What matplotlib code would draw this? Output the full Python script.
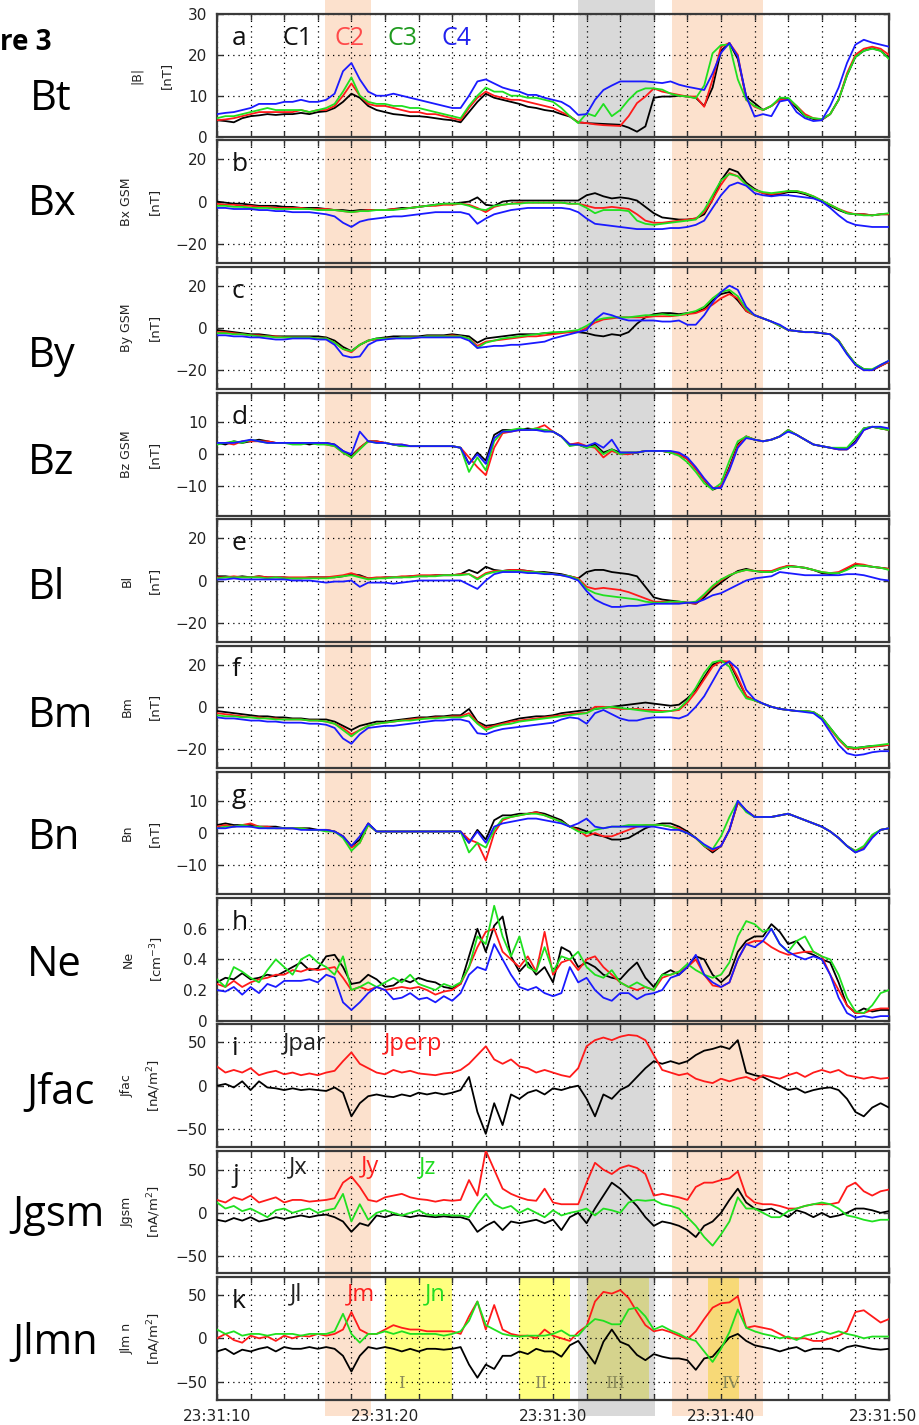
import numpy as np
import matplotlib
matplotlib.use("Agg")
import matplotlib.pyplot as plt
from matplotlib.patches import Rectangle
from matplotlib.transforms import blended_transform_factory, ScaledTranslation
from matplotlib.ticker import MultipleLocator, FixedLocator, FixedFormatter

# ---------------- data (time = seconds after 23:31:10, one sample every 0.5 s) ----------------
DT = 0.5
time_ticks = [0, 10, 20, 30, 40]
time_labels = ["23:31:10", "23:31:20", "23:31:30", "23:31:40", "23:31:50"]

# a  |B|
bt_c1 = [4.0,3.8,3.5,4.5,5.0,5.2,5.5,5.3,5.5,5.5,
         5.8,5.5,6.0,6.2,7.0,8.5,10.5,9.5,7.5,6.5,
         6.0,5.5,5.3,5.0,5.0,4.8,4.5,4.2,4.0,3.5,
         6.0,8.5,10.5,9.5,9.0,8.5,8.0,7.3,7.0,6.5,
         6.2,5.5,4.9,3.5,3.3,3.2,3.1,3.0,2.9,2.2,
         1.2,2.5,9.5,9.8,9.8,10.0,9.8,9.5,7.5,12.0,
         21.0,22.9,19.0,9.8,8.2,6.5,7.5,9.2,9.2,7.0,
         5.0,4.3,4.1,5.5,9.0,15.0,19.5,21.0,21.6,21.0,
         19.2]
bt_c2 = [4.0,4.2,4.5,5.0,5.5,6.0,6.0,6.0,6.0,6.0,
         6.5,6.0,6.5,6.5,7.5,10.0,13.0,10.0,8.0,7.5,
         7.5,7.0,6.5,6.0,6.0,5.5,5.5,5.0,4.5,4.0,
         7.0,9.5,11.0,10.0,9.5,9.0,9.0,8.5,8.0,7.5,
         7.0,6.0,5.0,3.5,3.3,3.0,2.8,2.7,2.6,5.0,
         8.2,9.8,11.8,11.0,10.6,10.2,9.8,9.8,7.3,14.0,
         22.0,22.9,20.0,9.0,7.3,6.5,7.5,9.0,9.0,7.5,
         5.5,4.5,4.2,5.5,9.0,15.5,20.0,21.5,22.0,21.5,
         20.0]
bt_c3 = [4.5,5.0,5.0,5.5,6.0,6.5,7.0,6.5,6.5,6.5,
         6.5,6.0,6.5,7.0,8.0,11.0,14.5,10.0,8.5,8.0,
         8.0,7.5,7.5,7.0,7.0,6.5,6.0,5.5,5.0,4.5,
         7.5,10.0,12.0,11.0,11.0,10.0,10.0,9.5,9.5,9.0,
         8.5,7.0,5.0,3.3,5.7,5.0,8.0,5.0,6.5,9.0,
         11.0,11.8,11.8,11.5,10.5,10.0,9.8,9.4,12.5,20.4,
         22.4,22.5,14.0,9.0,7.5,6.5,7.5,9.5,9.5,7.5,
         5.0,4.5,4.3,5.5,9.0,15.0,19.5,21.0,21.5,21.0,
         19.0]
bt_c4 = [5.5,5.8,6.0,6.5,7.0,8.0,8.0,8.0,8.5,8.5,
         9.0,8.5,8.5,9.0,10.5,16.0,18.0,14.0,11.0,10.0,
         10.0,10.5,10.0,9.5,9.0,8.5,8.0,7.5,7.0,7.0,
         10.0,13.5,14.0,13.0,12.0,11.4,11.0,10.2,10.2,9.5,
         9.0,8.5,7.3,5.3,5.5,9.0,11.4,12.5,13.5,13.5,
         13.5,13.5,13.3,13.1,13.5,12.7,12.2,11.8,11.4,15.5,
         20.5,22.9,19.6,9.8,4.9,5.5,5.0,8.6,9.0,6.0,
         4.5,3.8,4.0,7.5,12.0,18.0,22.5,23.7,23.0,22.5,
         22.0]

# b  Bx GSM
bx_c1 = [0.0,-0.5,-1.0,-1.0,-1.5,-2.0,-2.0,-2.0,-2.5,-2.5,
         -3.0,-3.0,-3.0,-3.5,-4.0,-4.0,-4.5,-4.0,-4.0,-4.0,
         -4.0,-3.5,-3.0,-3.0,-2.5,-2.0,-1.5,-1.0,-1.0,-0.5,
         0.0,2.0,-1.5,-2.0,0.0,0.5,0.5,0.5,0.5,0.5,
         0.5,0.5,0.5,0.5,3.0,4.0,2.5,1.5,2.0,1.5,
         0.5,-2.5,-5.5,-7.5,-8.0,-8.5,-8.5,-8.0,-6.0,1.0,
         10.0,15.5,14.0,9.0,6.0,4.0,3.0,3.5,4.5,4.5,
         3.5,2.0,0.0,-2.0,-4.0,-5.5,-6.0,-6.0,-6.5,-6.0,
         -6.0]
bx_c2 = [-1.0,-1.5,-1.5,-2.0,-2.0,-2.5,-2.5,-3.0,-3.0,-3.0,
         -3.0,-3.5,-3.5,-3.5,-4.0,-4.5,-5.0,-4.5,-4.0,-4.0,
         -4.0,-3.5,-3.5,-3.0,-2.5,-2.0,-2.0,-1.5,-1.5,-1.0,
         -1.5,-3.0,-5.0,-2.5,-1.5,-1.0,-0.5,-0.5,-0.5,-0.5,
         -0.5,-0.5,-1.0,-1.0,-2.0,-3.0,-3.0,-2.5,-3.0,-3.5,
         -6.0,-9.0,-10.0,-10.0,-9.5,-9.0,-8.5,-8.0,-5.0,1.0,
         8.0,13.5,12.0,8.0,5.5,4.0,3.5,4.0,5.0,5.0,
         4.0,2.5,0.5,-1.5,-3.5,-5.0,-6.0,-6.0,-6.5,-6.0,
         -6.0]
bx_c3 = [-2.0,-2.0,-2.5,-2.5,-3.0,-3.0,-3.0,-3.5,-3.5,-3.5,
         -3.5,-3.5,-4.0,-4.0,-4.0,-4.5,-5.0,-4.5,-4.5,-4.0,
         -4.0,-4.0,-3.5,-3.0,-2.5,-2.0,-1.5,-1.0,-1.0,-1.0,
         -2.0,-3.5,-4.0,-2.0,-1.5,-1.0,-1.0,-0.5,-0.5,-0.5,
         -0.5,-0.5,-1.0,-1.0,-3.0,-5.5,-4.0,-4.0,-4.0,-4.5,
         -9.0,-10.5,-11.0,-10.5,-10.0,-9.5,-9.0,-8.5,-4.0,3.0,
         10.0,13.0,12.0,8.0,5.5,4.5,4.0,4.5,5.0,5.0,
         4.0,2.5,0.5,-1.5,-3.5,-5.5,-6.0,-6.5,-6.5,-6.0,
         -5.5]
bx_c4 = [-3.0,-3.0,-3.5,-3.5,-3.5,-4.0,-4.0,-4.5,-4.5,-5.0,
         -5.0,-5.0,-5.5,-6.0,-7.0,-10.0,-12.0,-9.5,-8.5,-8.0,
         -7.5,-7.0,-7.0,-6.5,-6.0,-5.5,-5.0,-5.0,-5.0,-5.0,
         -6.0,-10.5,-8.0,-6.0,-5.0,-4.0,-3.5,-3.0,-3.0,-3.0,
         -3.0,-3.0,-3.5,-5.0,-8.0,-10.5,-11.0,-11.5,-12.0,-12.5,
         -13.0,-13.0,-13.0,-13.0,-12.5,-12.5,-12.0,-11.0,-9.0,-3.0,
         3.0,7.5,9.0,7.5,4.0,3.0,2.5,3.0,3.0,2.5,
         2.0,1.5,0.0,-3.0,-6.5,-9.5,-11.0,-11.5,-12.0,-12.0,
         -12.0]

# c  By GSM
by_c1 = [-1.0,-1.5,-2.0,-2.5,-3.0,-3.0,-3.5,-4.0,-4.0,-4.0,
         -4.0,-4.0,-4.0,-4.5,-6.0,-9.0,-11.0,-8.0,-6.0,-5.0,
         -4.5,-4.0,-4.0,-4.0,-4.0,-3.5,-3.5,-3.5,-3.0,-3.5,
         -4.0,-7.0,-5.0,-4.5,-4.0,-3.5,-3.0,-3.0,-3.0,-2.5,
         -2.5,-2.0,-2.0,-2.0,-2.5,-3.5,-4.0,-3.0,-3.5,-2.0,
         2.0,5.0,6.5,7.0,7.0,6.5,7.0,7.5,9.0,13.0,
         16.0,17.0,13.0,8.0,6.0,4.5,3.0,1.0,-1.0,-1.5,
         -2.0,-2.0,-2.5,-3.0,-6.0,-12.0,-17.0,-19.5,-20.0,-18.0,
         -16.0]
by_c2 = [-2.0,-2.0,-2.5,-3.0,-3.5,-3.5,-4.0,-4.0,-4.5,-4.5,
         -4.5,-4.5,-5.0,-5.0,-7.0,-10.0,-11.5,-8.0,-6.0,-5.5,
         -5.0,-5.0,-4.5,-4.5,-4.5,-4.0,-4.0,-4.0,-3.5,-4.0,
         -5.0,-8.5,-6.5,-6.0,-5.5,-5.0,-4.5,-4.0,-4.0,-3.5,
         -3.0,-2.5,-2.0,-2.0,0.0,2.5,4.0,4.5,5.0,5.0,
         5.0,5.0,5.5,5.5,5.5,6.0,6.5,7.0,8.5,11.0,
         14.0,16.0,14.0,8.0,6.0,4.5,3.0,1.0,-1.0,-1.5,
         -2.0,-2.0,-2.5,-3.0,-6.0,-12.0,-17.5,-20.0,-20.0,-18.0,
         -16.0]
by_c3 = [-2.5,-2.5,-3.0,-3.0,-3.5,-4.0,-4.0,-4.5,-4.5,-4.5,
         -4.5,-4.5,-5.0,-5.0,-7.0,-10.0,-11.0,-8.0,-6.0,-5.0,
         -5.0,-5.0,-4.5,-4.5,-4.5,-4.0,-4.0,-4.0,-4.0,-4.0,
         -5.0,-9.5,-7.0,-6.0,-5.0,-4.5,-4.0,-3.5,-3.0,-2.5,
         -2.0,-2.0,-1.5,-1.0,1.0,3.5,4.5,5.0,5.0,5.0,
         5.5,6.0,6.0,6.5,6.0,6.0,7.0,8.0,10.0,14.0,
         17.0,18.0,15.0,9.0,6.0,4.5,3.0,1.0,-1.0,-1.5,
         -2.0,-2.0,-2.5,-3.0,-6.0,-12.0,-17.0,-19.5,-19.5,-17.5,
         -15.5]
by_c4 = [-3.5,-3.5,-4.0,-4.0,-4.5,-4.5,-5.0,-5.5,-5.5,-5.0,
         -5.0,-5.0,-5.5,-5.5,-8.0,-13.0,-14.0,-13.5,-8.0,-6.0,
         -5.5,-5.0,-5.0,-5.0,-4.5,-4.5,-4.5,-4.5,-4.5,-4.5,
         -6.0,-9.5,-9.0,-8.5,-8.5,-8.0,-8.0,-7.5,-7.0,-6.5,
         -5.0,-4.0,-3.0,-2.0,-1.0,4.0,7.0,6.0,4.5,3.5,
         3.5,3.5,3.5,3.0,3.0,3.5,1.5,1.5,6.0,12.0,
         17.0,20.0,18.0,10.0,6.0,4.5,3.0,1.5,-1.0,-1.5,
         -2.0,-2.0,-2.5,-3.0,-6.5,-12.5,-17.5,-20.0,-20.0,-17.5,
         -15.5]

# d  Bz GSM
bz_c1 = [3.5,3.0,4.0,3.5,4.0,4.5,4.0,3.5,3.5,3.5,
         3.5,3.0,3.5,3.5,3.0,1.0,-0.5,2.0,4.0,4.0,
         3.5,3.0,2.5,2.5,2.5,2.5,2.5,2.5,2.5,2.0,
         -3.0,0.5,-2.0,6.0,7.5,7.5,7.5,8.0,7.5,7.5,
         7.0,5.5,3.0,3.0,2.0,3.0,0.5,1.5,0.5,0.5,
         0.5,1.0,1.0,1.0,0.5,0.0,-1.5,-4.5,-8.0,-11.0,
         -10.0,-4.0,3.0,5.5,4.5,4.0,4.5,5.5,7.5,6.0,
         4.5,3.0,2.5,2.0,1.5,1.5,4.0,8.0,8.5,8.0,
         7.5]
bz_c2 = [3.5,3.5,3.0,4.0,4.0,4.0,4.0,3.5,3.5,3.5,
         3.5,3.5,3.5,3.0,2.5,0.5,-1.0,2.0,4.0,4.0,
         3.5,3.0,3.0,2.5,2.5,2.5,2.5,2.5,2.5,2.0,
         -1.0,-4.0,-6.5,2.0,6.5,7.0,7.5,7.5,8.0,9.0,
         7.0,5.5,3.0,3.5,2.5,2.0,-1.0,1.0,0.0,0.0,
         0.5,1.0,1.0,1.0,0.5,0.0,-1.5,-4.5,-8.0,-10.5,
         -10.0,-4.5,2.5,5.5,4.5,4.0,4.5,5.5,7.5,6.0,
         4.5,3.0,2.5,2.0,1.5,1.5,3.5,7.5,8.5,8.0,
         7.5]
bz_c3 = [3.0,3.5,4.0,3.5,4.5,4.0,3.5,3.5,3.5,3.0,
         3.0,3.5,3.0,3.0,2.5,0.5,-1.0,1.5,4.0,3.5,
         3.5,3.0,2.5,2.5,2.5,2.5,2.5,2.5,2.5,2.0,
         -5.5,-1.0,-5.0,4.0,7.0,7.5,8.0,7.5,8.0,7.5,
         7.0,5.5,2.5,3.0,2.0,2.5,0.0,1.5,0.0,0.5,
         0.5,1.0,1.0,1.0,0.5,-0.5,-2.5,-5.5,-9.0,-11.0,
         -9.0,-2.0,4.0,5.5,4.5,4.0,4.5,5.5,7.5,6.0,
         4.5,3.0,2.5,2.0,2.0,2.0,5.0,8.0,8.5,8.0,
         7.5]
bz_c4 = [3.5,3.5,3.5,4.0,4.5,4.0,3.5,3.5,3.5,3.5,
         3.5,3.5,3.5,3.5,3.0,1.0,0.0,7.0,4.0,3.5,
         3.5,3.0,3.0,2.5,2.5,2.5,2.5,2.5,2.5,2.0,
         -3.0,0.0,-3.0,5.0,7.0,7.0,7.5,7.5,7.5,7.0,
         7.0,5.5,3.0,3.0,2.5,3.5,2.0,4.5,0.5,0.5,
         0.5,1.0,1.0,1.0,1.0,0.5,-1.0,-4.0,-7.5,-10.5,
         -10.5,-5.0,2.0,5.0,4.5,4.0,4.5,5.5,7.0,6.0,
         4.5,3.0,2.5,2.0,1.5,1.5,3.5,7.5,8.5,8.5,
         8.0]

# e  Bl
bl_c1 = [2.0,2.0,1.5,2.0,1.5,2.0,1.5,1.5,1.5,1.0,
         1.0,1.5,1.5,1.5,1.5,2.0,3.0,2.5,1.0,1.0,
         1.5,1.5,1.5,2.0,2.0,2.0,2.5,2.5,2.5,3.0,
         5.0,3.5,6.5,5.0,4.5,5.0,5.0,4.5,4.0,4.0,
         3.5,3.0,2.0,1.0,4.0,5.0,5.0,4.0,3.5,3.0,
         2.0,-3.0,-8.0,-9.0,-9.5,-10.0,-10.5,-11.0,-8.0,-4.0,
         -1.0,2.0,4.5,5.5,4.5,4.0,4.0,5.5,7.0,6.5,
         6.0,5.0,3.5,3.0,3.5,5.5,7.5,7.0,6.5,6.0,
         5.5]
bl_c2 = [1.5,1.5,2.0,1.5,1.5,2.0,1.5,1.5,1.5,1.5,
         1.5,1.5,1.5,1.5,2.0,2.5,3.5,2.0,1.0,1.5,
         1.5,1.5,2.0,2.0,2.5,2.5,2.5,2.5,2.5,3.0,
         3.0,1.0,3.5,4.5,4.5,5.0,5.0,4.5,4.0,3.5,
         3.0,2.5,2.0,1.0,-3.0,-4.0,-3.5,-4.0,-4.5,-5.5,
         -7.0,-8.5,-10.0,-10.0,-10.0,-10.5,-10.5,-11.0,-7.0,-3.0,
         0.0,2.5,4.0,5.0,4.5,4.5,4.5,6.0,7.0,6.5,
         6.0,5.0,4.0,3.5,4.0,6.0,8.0,7.5,6.5,6.0,
         5.5]
bl_c3 = [1.0,1.5,1.5,1.5,1.5,1.5,1.0,1.5,1.0,1.0,
         1.0,1.0,1.0,1.0,1.5,2.0,2.5,1.5,0.5,1.0,
         1.0,1.5,1.5,1.5,2.0,2.0,2.0,2.5,2.5,2.5,
         3.0,0.5,3.0,4.0,4.5,4.5,4.5,4.0,4.0,3.5,
         3.0,2.5,2.0,0.5,-4.0,-6.0,-7.0,-7.5,-8.0,-8.5,
         -9.0,-10.0,-10.5,-10.5,-10.0,-10.0,-10.5,-10.0,-6.5,-2.5,
         0.5,2.5,4.0,5.0,4.5,4.0,4.0,5.5,6.5,6.5,
         6.0,5.0,4.0,3.5,3.5,5.0,7.0,7.0,6.5,6.0,
         5.0]
bl_c4 = [0.5,0.5,1.0,0.5,0.5,0.5,0.5,0.5,0.5,0.0,
         0.0,0.0,-0.5,-1.0,-0.5,-0.5,0.0,-3.0,-1.0,-1.0,
         -1.0,-1.5,-1.0,-0.5,0.0,0.0,0.0,0.0,0.0,0.0,
         -2.0,-4.0,0.0,3.0,4.0,4.0,4.0,3.5,3.5,3.0,
         3.0,2.5,1.5,0.0,-5.0,-9.0,-11.0,-12.5,-12.5,-12.0,
         -12.0,-11.5,-11.0,-11.0,-11.0,-11.0,-10.5,-10.5,-9.0,-7.0,
         -6.0,-4.0,-2.0,0.0,1.0,1.5,2.0,4.0,3.5,3.0,
         2.5,2.5,2.5,2.5,2.5,3.0,3.0,2.5,1.5,0.5,
         0.0]

# f  Bm
bm_c1 = [-2.0,-2.5,-3.0,-3.5,-4.0,-4.5,-4.5,-5.0,-5.0,-5.5,
         -5.5,-6.0,-6.0,-6.0,-7.0,-9.0,-11.0,-9.0,-8.0,-7.0,
         -7.0,-6.5,-6.0,-5.5,-5.0,-5.0,-4.5,-4.5,-4.0,-4.0,
         -1.0,-7.0,-9.0,-8.5,-7.5,-6.5,-5.5,-5.0,-4.5,-4.5,
         -4.0,-3.0,-2.5,-2.0,-1.5,-1.0,-0.5,0.0,0.5,1.0,
         1.5,2.0,1.5,1.0,0.5,1.0,4.0,8.0,14.0,20.0,
         21.5,21.0,13.0,5.0,3.0,1.5,0.0,-1.0,-1.5,-2.0,
         -2.0,-2.5,-5.0,-10.0,-15.0,-19.0,-19.5,-19.0,-18.5,-18.5,
         -18.0]
bm_c2 = [-3.0,-3.5,-4.0,-4.5,-5.0,-5.0,-5.5,-5.5,-6.0,-6.0,
         -6.0,-6.5,-6.5,-7.0,-8.0,-10.0,-13.0,-11.0,-9.0,-8.0,
         -7.5,-7.0,-6.5,-6.0,-5.5,-5.5,-5.0,-5.0,-4.5,-4.5,
         -3.0,-7.5,-10.0,-9.0,-8.0,-7.0,-6.5,-6.0,-5.5,-5.0,
         -4.5,-4.0,-3.5,-3.0,-3.0,0.0,0.0,-0.5,-1.0,-1.0,
         -1.0,-1.5,-1.5,-2.0,-2.0,-1.5,2.0,7.0,13.0,19.0,
         21.5,21.5,14.0,5.0,3.0,1.5,0.0,-1.0,-1.5,-2.0,
         -2.0,-2.5,-5.0,-10.5,-15.5,-19.5,-20.0,-19.5,-19.0,-18.5,
         -18.0]
bm_c3 = [-4.0,-4.5,-4.5,-5.0,-5.0,-5.5,-5.5,-6.0,-6.0,-6.0,
         -6.0,-6.5,-6.5,-7.0,-8.0,-11.0,-14.0,-11.0,-9.0,-8.0,
         -7.5,-7.0,-6.5,-6.5,-6.0,-5.5,-5.5,-5.0,-5.0,-5.0,
         -4.0,-8.0,-11.0,-9.5,-8.5,-8.0,-7.0,-6.5,-6.0,-5.5,
         -5.0,-4.5,-4.0,-3.5,-3.0,-1.0,-0.5,0.0,-0.5,-1.0,
         -1.5,-2.0,-2.5,-2.5,-2.0,-1.0,3.0,9.0,16.0,21.0,
         22.0,19.0,10.0,4.0,3.0,1.5,0.0,-1.0,-1.5,-2.0,
         -2.0,-2.5,-5.0,-10.0,-15.0,-19.0,-19.5,-19.0,-18.5,-18.0,
         -17.5]
bm_c4 = [-5.0,-5.5,-5.5,-6.0,-6.5,-6.5,-7.0,-7.0,-7.5,-7.5,
         -7.5,-8.0,-8.0,-8.5,-10.0,-15.0,-17.5,-13.0,-10.0,-9.5,
         -9.0,-9.0,-8.5,-8.0,-7.5,-7.0,-6.5,-6.5,-6.0,-6.0,
         -7.0,-12.5,-13.0,-11.5,-10.5,-10.0,-9.5,-9.0,-8.5,-8.0,
         -7.5,-6.0,-5.0,-5.5,-8.0,-3.0,-1.5,-3.5,-5.5,-6.5,
         -6.5,-5.5,-5.0,-5.0,-5.0,-5.5,-4.0,0.0,5.0,12.0,
         19.0,21.5,18.0,8.0,3.5,1.5,0.0,-1.0,-1.5,-2.0,
         -2.5,-3.0,-6.0,-12.0,-18.0,-22.0,-23.0,-22.5,-21.5,-21.0,
         -21.0]

# g  Bn
bn_c1 = [2.5,3.0,2.5,2.5,2.5,2.0,2.0,2.0,1.5,1.5,
         1.5,1.5,1.0,1.0,0.5,-1.0,-4.0,-2.0,3.0,0.5,
         0.5,0.5,0.5,0.5,0.5,0.5,0.5,0.5,0.5,0.5,
         -3.0,1.0,-2.0,4.0,5.5,5.5,6.0,6.0,6.5,6.0,
         5.0,4.0,2.0,1.5,0.5,-0.5,-1.0,-2.0,-2.0,-1.5,
         0.0,1.5,2.5,3.0,3.0,2.0,0.5,-1.5,-4.0,-6.0,
         -4.0,1.0,9.5,7.0,5.0,5.0,5.0,5.5,6.0,5.0,
         4.0,3.0,2.0,0.5,-1.5,-4.0,-6.0,-4.5,-1.0,1.0,
         1.5]
bn_c2 = [2.0,2.5,2.0,2.5,3.0,2.0,2.0,1.5,1.5,1.5,
         1.5,1.0,1.0,1.0,0.5,-1.0,-4.5,-3.0,2.5,0.5,
         0.5,0.5,0.5,0.5,0.5,0.5,0.5,0.5,0.5,0.5,
         -2.0,-3.0,-8.5,0.0,4.0,5.0,5.5,6.0,6.5,5.5,
         4.5,3.5,2.0,1.0,-1.0,0.0,-1.0,-1.0,0.0,1.0,
         2.0,2.5,2.5,2.5,2.0,1.5,0.0,-1.5,-4.0,-5.5,
         -4.0,1.0,9.5,7.0,5.0,5.0,5.0,5.5,6.0,5.0,
         4.0,3.0,2.0,0.5,-1.5,-4.0,-5.5,-4.5,-1.0,1.0,
         1.5]
bn_c3 = [1.5,2.0,2.0,2.5,2.0,2.0,1.5,1.5,1.5,1.5,
         1.5,1.0,1.0,0.5,0.5,-1.5,-5.5,-3.0,2.5,0.5,
         0.5,0.5,0.5,0.5,0.5,0.5,0.5,0.5,0.5,0.5,
         -6.0,-3.0,-4.5,1.0,4.5,5.0,5.5,6.0,6.0,5.5,
         4.5,3.5,2.0,0.5,0.0,1.0,1.5,2.0,2.0,2.5,
         2.5,2.5,2.5,2.5,2.0,1.0,0.0,-1.5,-4.0,-5.0,
         -1.0,5.0,10.0,6.5,5.0,5.0,5.0,5.5,6.0,5.0,
         4.0,3.0,2.0,0.5,-1.5,-4.0,-5.5,-4.0,-0.5,1.0,
         1.5]
bn_c4 = [1.5,1.5,2.0,2.0,2.0,1.5,1.5,1.5,1.5,1.5,
         1.0,1.0,1.0,1.0,0.5,-1.0,-4.0,-1.0,3.0,0.5,
         0.5,0.5,0.5,0.5,0.5,0.5,0.5,0.5,0.5,0.5,
         -3.0,0.5,-3.0,2.0,3.0,3.5,4.0,4.5,4.5,4.0,
         3.5,3.0,2.0,3.0,4.5,2.0,1.5,2.0,2.0,2.0,
         2.0,2.0,2.0,1.5,1.0,1.0,0.0,-1.5,-3.5,-5.0,
         -4.0,1.0,10.0,7.0,5.0,5.0,5.0,5.5,6.0,5.0,
         4.0,3.0,2.0,0.5,-1.5,-4.0,-6.0,-5.0,-1.5,1.0,
         1.5]

# h  Ne
ne_c1 = [0.25,0.28,0.27,0.31,0.27,0.28,0.30,0.29,0.32,0.35,
         0.38,0.33,0.34,0.42,0.43,0.35,0.24,0.25,0.30,0.27,
         0.22,0.23,0.27,0.25,0.28,0.26,0.25,0.22,0.21,0.24,
         0.42,0.60,0.45,0.62,0.68,0.42,0.32,0.38,0.30,0.35,
         0.25,0.48,0.45,0.35,0.38,0.35,0.30,0.28,0.27,0.33,
         0.38,0.28,0.22,0.30,0.33,0.30,0.35,0.42,0.40,0.30,
         0.25,0.30,0.45,0.52,0.55,0.55,0.63,0.58,0.50,0.52,
         0.45,0.43,0.40,0.38,0.25,0.10,0.05,0.08,0.06,0.07,
         0.07]
ne_c2 = [0.24,0.22,0.26,0.22,0.25,0.27,0.28,0.30,0.30,0.33,
         0.32,0.34,0.33,0.34,0.35,0.28,0.20,0.22,0.20,0.22,
         0.20,0.21,0.22,0.21,0.22,0.20,0.17,0.19,0.20,0.24,
         0.35,0.48,0.58,0.60,0.45,0.40,0.35,0.42,0.32,0.58,
         0.30,0.38,0.40,0.33,0.40,0.42,0.35,0.30,0.25,0.22,
         0.20,0.22,0.20,0.28,0.30,0.32,0.35,0.40,0.30,0.23,
         0.22,0.25,0.40,0.50,0.52,0.52,0.48,0.45,0.43,0.44,
         0.45,0.45,0.42,0.30,0.20,0.10,0.05,0.05,0.07,0.08,
         0.08]
ne_c3 = [0.27,0.22,0.35,0.32,0.28,0.25,0.33,0.40,0.35,0.30,
         0.40,0.43,0.38,0.35,0.30,0.42,0.20,0.22,0.25,0.22,
         0.25,0.28,0.25,0.30,0.24,0.22,0.20,0.24,0.22,0.25,
         0.35,0.55,0.50,0.75,0.55,0.42,0.55,0.35,0.32,0.48,
         0.32,0.42,0.40,0.45,0.35,0.30,0.28,0.33,0.25,0.22,
         0.25,0.22,0.20,0.30,0.30,0.32,0.37,0.33,0.30,0.28,
         0.30,0.38,0.55,0.65,0.63,0.58,0.60,0.50,0.45,0.52,
         0.55,0.45,0.42,0.40,0.30,0.15,0.06,0.05,0.10,0.18,
         0.20]
ne_c4 = [0.20,0.19,0.22,0.17,0.22,0.18,0.24,0.22,0.26,0.26,
         0.26,0.27,0.25,0.30,0.28,0.12,0.07,0.12,0.18,0.22,
         0.20,0.14,0.15,0.18,0.14,0.15,0.12,0.16,0.13,0.18,
         0.30,0.35,0.33,0.50,0.40,0.30,0.22,0.20,0.22,0.18,
         0.16,0.18,0.35,0.25,0.28,0.20,0.15,0.13,0.18,0.18,
         0.14,0.17,0.18,0.20,0.28,0.30,0.35,0.43,0.30,0.25,
         0.22,0.25,0.40,0.50,0.48,0.52,0.60,0.50,0.45,0.42,
         0.40,0.42,0.40,0.30,0.15,0.05,0.02,0.03,0.02,0.03,
         0.03]

# i  Jfac
jpar = [0,2,-2,5,-5,5,-2,-3,-5,-3,
        -5,-4,-5,-6,-2,-8,-35,-20,-12,-10,
        -12,-13,-10,-12,-8,-10,-8,-10,-8,-5,
        10,-30,-55,-20,-45,-10,-15,-8,-5,-10,
        -3,-5,-2,0,-15,-35,-10,-15,-5,0,
        10,20,28,25,28,25,28,35,40,42,
        45,42,52,15,12,10,5,0,-5,-3,
        -8,-5,-3,-2,-5,-15,-30,-35,-25,-20,
        -25]
jperp = [22,15,18,15,20,12,15,17,13,15,
         12,14,12,15,17,28,38,25,20,15,
         13,18,15,17,14,13,12,14,15,18,
         25,35,45,30,25,30,22,20,15,18,
         15,12,10,20,45,52,55,52,56,58,
         57,52,35,18,15,12,14,8,5,3,
         8,5,8,10,6,12,10,8,12,15,
         10,15,18,15,18,12,10,8,10,8,
         9]

# j  Jgsm
jx = [-8,-10,-6,-9,-5,-10,-8,-5,-7,-5,
      -3,-5,-3,-2,-5,-10,-22,-12,-15,-3,
      -5,-2,-3,-5,-3,-4,-5,-4,-5,-5,
      -8,-22,-15,-10,-20,-10,-12,-10,-8,-12,
      -8,-20,-5,0,-12,5,20,35,28,18,
      8,-5,-15,-10,-12,-15,-20,-28,-15,-10,
      0,15,28,12,5,3,5,0,-5,3,
      0,-5,0,-5,-3,0,5,5,3,0,
      2]
jy = [15,12,18,15,20,12,15,18,12,15,
      15,13,14,15,17,35,42,30,15,13,
      18,20,22,18,16,15,13,15,14,15,
      38,20,72,50,28,22,18,15,14,28,
      12,10,10,10,35,58,50,45,52,55,
      52,45,20,22,20,18,15,30,35,35,
      38,40,48,20,12,10,10,8,5,5,
      8,10,10,10,12,30,35,25,20,25,
      27]
jz = [12,5,8,2,5,0,-5,3,5,0,
      3,5,0,3,5,22,-10,10,-8,0,
      3,0,-3,0,3,-2,-3,-2,-3,-3,
      -5,10,22,10,5,8,0,5,0,-5,
      3,-3,0,2,5,-3,5,3,0,12,
      15,14,15,10,8,5,-5,-15,-28,-38,
      -25,-10,18,5,5,0,-5,-5,2,5,
      8,10,12,10,5,-3,-5,-8,-10,-8,
      -8]

# k  Jlmn
jl = [-15,-12,-18,-13,-15,-12,-10,-15,-10,-12,
      -12,-10,-12,-10,-12,-20,-38,-20,-10,-12,
      -10,-12,-15,-12,-15,-12,-12,-13,-12,-10,
      -30,-45,-30,-35,-20,-20,-15,-18,-12,-15,
      -15,-21,-8,-3,-16,-29,-4,10,-4,-8,
      -19,-25,-18,-21,-23,-23,-25,-36,-23,-21,
      -10,1,5,-3,-8,-10,-12,-15,-12,-10,
      -15,-12,-12,-12,-15,-10,-8,-10,-12,-13,
      -12]
jm = [0,5,-2,-5,3,0,2,-3,3,0,
      3,2,5,3,5,10,30,10,5,5,
      10,15,12,10,10,8,8,8,8,5,
      25,42,10,38,10,5,3,3,0,10,
      3,0,-3,7,14,42,53,51,55,46,
      30,15,8,10,7,3,-1,8,22,35,
      40,41,48,12,14,12,10,5,0,0,
      0,-3,-3,0,3,8,30,32,25,18,
      22]
jn = [10,5,8,3,5,5,3,5,5,5,
      3,5,5,5,8,28,5,-5,5,5,
      8,5,8,5,5,5,5,3,5,8,
      20,42,15,10,5,3,2,3,3,3,
      5,9,3,3,14,22,20,16,16,33,
      35,25,10,14,9,5,0,-3,-15,-27,
      -12,7,33,12,8,5,3,0,2,-2,
      3,5,8,5,8,5,3,0,2,2,
      2]

# shaded intervals (seconds after 23:31:10)
orange_spans = [(6.4, 9.15), (27.1, 32.5)]
gray_spans = [(21.5, 26.05)]
k_boxes = [(10.0, 14.0, "#ffff80"), (18.0, 21.0, "#ffff80"),
           (22.0, 25.7, "#d5d38d"), (29.2, 31.1, "#f7d977")]
roman_labels = ["I", "II", "III", "IV"]
roman_pos = [10.8, 18.9, 23.1, 30.0]

# ---------------- figure ----------------
W, H = 920, 1425
fig = plt.figure(figsize=(W / 100, H / 100), dpi=100)
plt.rcParams["font.family"] = ["DejaVu Sans"]

def fx(x):
    return x / W

def fy(y):
    return 1 - y / H

BLACK, RED, GREEN, BLUE = "#000000", "#ff1a1a", "#1fe01f", "#1a1aff"
COLS4 = [BLACK, RED, GREEN, BLUE]

panels = [
    dict(series=[bt_c1, bt_c2, bt_c3, bt_c4], cols=COLS4, ylim=(0, 30), yt=[0, 10, 20, 30],
         l1="|B|", l2="[nT]", big="Bt", bigx=30, bigy=110, letter="a", lx=(136, 166)),
    dict(series=[bx_c1, bx_c2, bx_c3, bx_c4], cols=COLS4, ylim=(-29, 29), yt=[-20, 0, 20],
         l1="Bx GSM", l2="[nT]", big="Bx", bigx=28, bigy=215, letter="b"),
    dict(series=[by_c1, by_c2, by_c3, by_c4], cols=COLS4, ylim=(-29, 29), yt=[-20, 0, 20],
         l1="By GSM", l2="[nT]", big="By", bigx=28, bigy=367, letter="c"),
    dict(series=[bz_c1, bz_c2, bz_c3, bz_c4], cols=COLS4, ylim=(-19, 19), yt=[-10, 0, 10],
         l1="Bz GSM", l2="[nT]", big="Bz", bigx=28, bigy=474, letter="d"),
    dict(series=[bl_c1, bl_c2, bl_c3, bl_c4], cols=COLS4, ylim=(-29, 29), yt=[-20, 0, 20],
         l1="Bl", l2="[nT]", big="Bl", bigx=28, bigy=599, letter="e"),
    dict(series=[bm_c1, bm_c2, bm_c3, bm_c4], cols=COLS4, ylim=(-29, 29), yt=[-20, 0, 20],
         l1="Bm", l2="[nT]", big="Bm", bigx=28, bigy=727, letter="f"),
    dict(series=[bn_c1, bn_c2, bn_c3, bn_c4], cols=COLS4, ylim=(-19, 19), yt=[-10, 0, 10],
         l1="Bn", l2="[nT]", big="Bn", bigx=28, bigy=849, letter="g"),
    dict(series=[ne_c1, ne_c2, ne_c3, ne_c4], cols=COLS4, ylim=(0, 0.8), yt=[0, 0.2, 0.4, 0.6],
         ytl=["0", "0.2", "0.4", "0.6"],
         l1="Ne", l2="[cm$^{-3}$]", big="Ne", bigx=27, bigy=976, letter="h", lx=(128, 157)),
    dict(series=[jpar, jperp], cols=[BLACK, RED], ylim=(-70, 70), yt=[-50, 0, 50],
         l1="Jfac", l2="[nA/m$^2$]", big="Jfac", bigx=26, bigy=1104, letter="i"),
    dict(series=[jx, jy, jz], cols=[BLACK, RED, GREEN], ylim=(-70, 72), yt=[-50, 0, 50],
         l1="Jgsm", l2="[nA/m$^2$]", big="Jgsm", bigx=12, bigy=1226, letter="j"),
    dict(series=[jl, jm, jn], cols=[BLACK, RED, GREEN], ylim=(-70, 70), yt=[-50, 0, 50],
         l1="Jlm n", l2="[nA/m$^2$]", big="Jlmn", bigx=12, bigy=1354, letter="k"),
]

LEFT, RIGHT = 217, 889
TOP0, PERIOD, PH = 14, 126.3, 122.6

axes = []
for i, p in enumerate(panels):
    top = TOP0 + i * PERIOD
    ax = fig.add_axes([fx(LEFT), fy(top + PH), (RIGHT - LEFT) / W, PH / H])
    ax.set_facecolor("none")
    axes.append(ax)
    for s, c in zip(p["series"], p["cols"]):
        tt = DT * np.arange(len(s))
        ax.plot(tt, s, color=c, lw=1.3, solid_joinstyle="round", zorder=3)
    ax.set_xlim(0, 40)
    ax.set_ylim(*p["ylim"])
    ax.xaxis.set_major_locator(FixedLocator(time_ticks))
    ax.xaxis.set_minor_locator(MultipleLocator(2))
    ax.yaxis.set_major_locator(FixedLocator(p["yt"]))
    if "ytl" in p:
        ax.yaxis.set_major_formatter(FixedFormatter(p["ytl"]))
    ax.tick_params(axis="both", which="both", direction="in", top=True, right=True,
                   length=4, width=1.0, color="#333333")
    ax.tick_params(axis="y", labelsize=11, pad=7, colors="#333333", labelcolor="#222222")
    ax.tick_params(axis="x", labelsize=11, pad=7, labelcolor="#222222")
    ax.grid(True, which="both", axis="x", color="black", lw=0.9, ls=(0, (1, 3.2)), zorder=1)
    ax.grid(True, which="major", axis="y", color="black", lw=0.9, ls=(0, (1, 3.2)), zorder=1)
    for sp in ax.spines.values():
        sp.set_linewidth(1.6)
        sp.set_color("#3a3a3a")
    if i < len(panels) - 1:
        ax.set_xticklabels([])
    else:
        ax.set_xticklabels(time_labels)

    cy = top + PH / 2
    lx1, lx2 = p.get("lx", (127, 154))
    fig.text(fx(lx1), fy(cy), p["l1"], rotation=90, ha="center", va="center",
             fontsize=9, color="#222222")
    fig.text(fx(lx2), fy(cy), p["l2"], rotation=90, ha="center", va="center",
             fontsize=9.5, color="#222222")
    fig.text(fx(p["bigx"]), fy(p["bigy"]), p["big"], fontsize=30, family="Open Sans",
             ha="left", va="baseline", color="black")
    fig.text(fx(232), fy(top + 31), p["letter"], fontsize=19, family="Open Sans",
             ha="left", va="baseline", color="#111111")

ax_k = axes[-1]
# keep the last time label inside the canvas, as in the original
last_lbl = ax_k.get_xticklabels()[-1]
last_lbl.set_transform(last_lbl.get_transform() + ScaledTranslation(-6 / 100, 0, fig.dpi_scale_trans))

# vertical shaded bands spanning the whole figure column
btr = blended_transform_factory(ax_k.transData, fig.transFigure)
for (a, b) in orange_spans:
    fig.add_artist(Rectangle((a, fy(1416)), b - a, 1 - fy(1416), transform=btr,
                             facecolor="#fce1cd", edgecolor="none", zorder=-5))
for (a, b) in gray_spans:
    fig.add_artist(Rectangle((a, fy(1416)), b - a, 1 - fy(1416), transform=btr,
                             facecolor="#d9d9d9", edgecolor="none", zorder=-5))

# highlighted intervals in panel k
for (a, b, c) in k_boxes:
    ax_k.axvspan(a, b, color=c, lw=0, zorder=0.5)
for lab, xpos in zip(roman_labels, roman_pos):
    ax_k.text(xpos, -52, lab, fontsize=12, family="DejaVu Serif", color="#8a8a5a",
              ha="left", va="center", zorder=4)

# legends inside panels
fig.text(0, fy(50), "re 3", fontsize=20, family="Open Sans", weight="bold",
         ha="left", va="baseline")
for txt, x, c in [("C1", 283, "#111111"), ("C2", 335, "#ff4a4a"), ("C3", 388, "#1f9a1f"),
                  ("C4", 442, "#2222ee")]:
    fig.text(fx(x), fy(45), txt, fontsize=18, family="Open Sans", color=c, va="baseline")
for txt, x, c in [("Jpar", 283, "#222222"), ("Jperp", 384, "#ff2020")]:
    fig.text(fx(x), fy(1050), txt, fontsize=17, family="Open Sans", color=c, va="baseline")
for txt, x, c in [("Jx", 289, "#222222"), ("Jy", 361, "#ff2020"), ("Jz", 419, "#22dd22")]:
    fig.text(fx(x), fy(1173), txt, fontsize=17, family="Open Sans", color=c, va="baseline")
for txt, x, c in [("Jl", 290, "#222222"), ("Jm", 347, "#ff2020"), ("Jn", 425, "#22dd22")]:
    fig.text(fx(x), fy(1300), txt, fontsize=17, family="Open Sans", color=c, va="baseline")

fig.savefig("out.png", dpi=100)
